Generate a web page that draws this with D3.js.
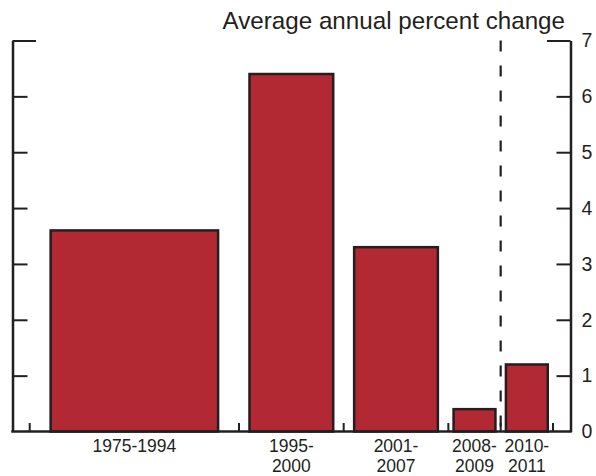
<!DOCTYPE html>
<html>
<head>
<meta charset="utf-8">
<script src="https://cdn.jsdelivr.net/npm/d3@7"></script>
<style>
  html, body { margin: 0; padding: 0; background: #fff; }
  svg { display: block; }
  text { font-family: "Liberation Sans", Arial, Helvetica, sans-serif; fill: #231f20; }
</style>
</head>
<body>
<svg id="chart" width="596" height="476"></svg>
<script>
// ---- data ----
const periods = ["1975-1994", "1995-2000", "2001-2007", "2008-2009", "2010-2011"];
const labelLines = [["1975-1994"], ["1995-", "2000"], ["2001-", "2007"], ["2008-", "2009"], ["2010-", "2011"]];
const values = [3.6, 6.4, 3.3, 0.4, 1.2];
const yTicks = [0, 1, 2, 3, 4, 5, 6, 7];
const axisTitle = "Average annual percent change";
const dividerAfter = 3; // dashed line after the 4th period

// ---- layout ----
const spans = [4, 2, 2, 1, 1];  // relative period widths on the chart
const W = 596, H = 476;
const leftX = 12.5, rightX = 570.5, topY = 40.5, baseY = 431.5;
const barFill = "#b22833", ink = "#231f20";

const svg = d3.select("#chart");

const y = d3.scaleLinear().domain([0, 7]).range([baseY, topY]);
const x = d3.scaleLinear().domain([0, d3.sum(spans)]).range([29.7, 553]);

const starts = [];
let acc = 0;
spans.forEach(s => { starts.push(acc); acc += s; });
const bounds = starts.concat([acc]);
const pad = 0.1;

const data = periods.map((p, i) => ({
  p, v: values[i], lines: labelLines[i],
  x0: starts[i] + spans[i] * pad,
  x1: starts[i] + spans[i] * (1 - pad),
  c: starts[i] + spans[i] / 2
}));

// bars
svg.append("g").selectAll("rect").data(data).join("rect")
  .attr("x", d => x(d.x0))
  .attr("width", d => x(d.x1) - x(d.x0))
  .attr("y", d => y(d.v))
  .attr("height", d => y(0) - y(d.v))
  .attr("fill", barFill)
  .attr("stroke", ink)
  .attr("stroke-width", 2.5);

// dashed divider
svg.append("line")
  .attr("x1", x(bounds[dividerAfter + 1])).attr("x2", x(bounds[dividerAfter + 1]))
  .attr("y1", y(7)).attr("y2", y(0))
  .attr("stroke", ink).attr("stroke-width", 2.2)
  .attr("stroke-dasharray", "11,14");

// left axis (ticks inward, no labels)
const gL = svg.append("g").attr("transform", `translate(${leftX},0)`)
  .call(d3.axisLeft(y).tickValues(yTicks).tickSizeInner(-15).tickSizeOuter(0).tickFormat(""));
gL.select(".domain").attr("stroke", ink).attr("stroke-width", 2.5);
gL.selectAll(".tick line").attr("stroke", ink).attr("stroke-width", 2)
  .filter(d => d === 7).attr("x2", 23.5);
gL.selectAll(".tick").filter(d => d === 0).remove();

// right axis (ticks inward, labels right)
const gR = svg.append("g").attr("transform", `translate(${rightX},0)`)
  .call(d3.axisRight(y).tickValues(yTicks).tickSizeInner(-14).tickSizeOuter(0)
    .tickPadding(10).tickFormat(d3.format("d")));
gR.select(".domain").attr("stroke", ink).attr("stroke-width", 2.5);
gR.selectAll(".tick line").attr("stroke", ink).attr("stroke-width", 2)
  .filter(d => d === 7).attr("x2", -23.5);
gR.selectAll(".tick").filter(d => d === 0).select("line").remove();
gR.selectAll(".tick text").attr("font-size", 19.5).attr("fill", ink)
  .attr("font-family", "Liberation Sans, Arial, sans-serif").attr("x", 11);

// bottom axis line
svg.append("line")
  .attr("x1", leftX - 1.25).attr("x2", rightX + 1.25)
  .attr("y1", baseY).attr("y2", baseY)
  .attr("stroke", ink).attr("stroke-width", 2.5);

// bottom boundary ticks (pointing up)
svg.append("g").selectAll("line").data(bounds).join("line")
  .attr("x1", d => x(d)).attr("x2", d => x(d))
  .attr("y1", baseY).attr("y2", baseY - 8.5)
  .attr("stroke", ink).attr("stroke-width", 2);

// category labels
const lab = svg.append("g").selectAll("text").data(data).join("text")
  .attr("text-anchor", "middle")
  .attr("font-size", 17.5)
  .attr("x", d => x(d.c));
lab.selectAll("tspan").data(d => d.lines.map((t, i) => ({ t, i, cx: x(d.c) }))).join("tspan")
  .attr("x", d => d.cx)
  .attr("y", d => 451.5 + d.i * 20.4)
  .text(d => d.t);

// axis title
svg.append("text")
  .attr("x", 565).attr("y", 29)
  .attr("text-anchor", "end")
  .attr("font-size", 24.2)
  .text(axisTitle);
</script>
</body>
</html>
